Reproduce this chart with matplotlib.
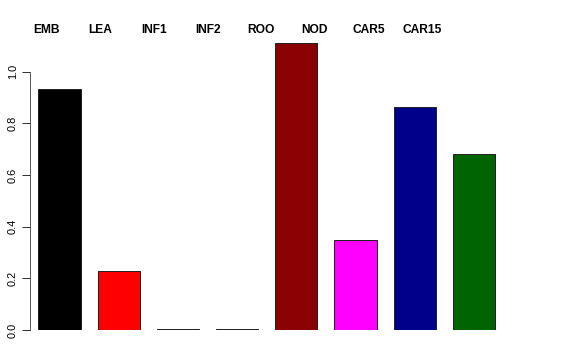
import matplotlib
matplotlib.use("Agg")
import matplotlib.pyplot as plt

categories = ["EMB", "LEA", "INF1", "INF2", "ROO", "NOD", "CAR5", "CAR15"]
values = [0.932, 0.230, 0.002, 0.002, 1.110, 0.348, 0.864, 0.681]
colors = ["#000000", "#FF0000", "#2E8B57", "#483D8B", "#8B0000", "#FF00FF", "#00008B", "#006400"]
yticks = [0.0, 0.2, 0.4, 0.6, 0.8, 1.0]
ytick_labels = ["0.0", "0.2", "0.4", "0.6", "0.8", "1.0"]

W, H = 576, 360
fig = plt.figure(figsize=(W / 72, H / 72), dpi=72)

# axes in pixel layout
ax_left_px, ax_right_px = 30, 540
ax_bottom_px, ax_top_px = 330, 40
ax = fig.add_axes([ax_left_px / W, (H - ax_bottom_px) / H,
                   (ax_right_px - ax_left_px) / W, (ax_bottom_px - ax_top_px) / H])

step_px, first_px = 59.2, 59.5
x = list(range(len(categories)))
ax.bar(x, values, width=0.714, color=colors, edgecolor="#222222", linewidth=1.0)

ax.set_xlim((ax_left_px - first_px) / step_px, (ax_right_px - first_px) / step_px)
ax.set_ylim(0, (ax_bottom_px - ax_top_px) / 258.3)

for s in ["top", "right", "bottom"]:
    ax.spines[s].set_visible(False)
ax.spines["left"].set_bounds(0, 1.0)
ax.spines["left"].set_color("#333333")
ax.set_xticks([])
ax.set_yticks(yticks)
ax.set_yticklabels(ytick_labels, rotation=90, va="center", fontsize=11,
                   family="Liberation Sans")
ax.tick_params(axis="y", direction="out", length=8, width=1, pad=4, color="#333333")

# category labels across the top
label_first_px, label_step_px = 46.5, 53.7
for i, name in enumerate(categories):
    px = label_first_px + label_step_px * i
    fig.text(px / W, (H - 33) / H, name, ha="center", va="baseline",
             fontsize=12, fontweight="bold", family="Liberation Sans")

fig.savefig("out.png", dpi=72)
